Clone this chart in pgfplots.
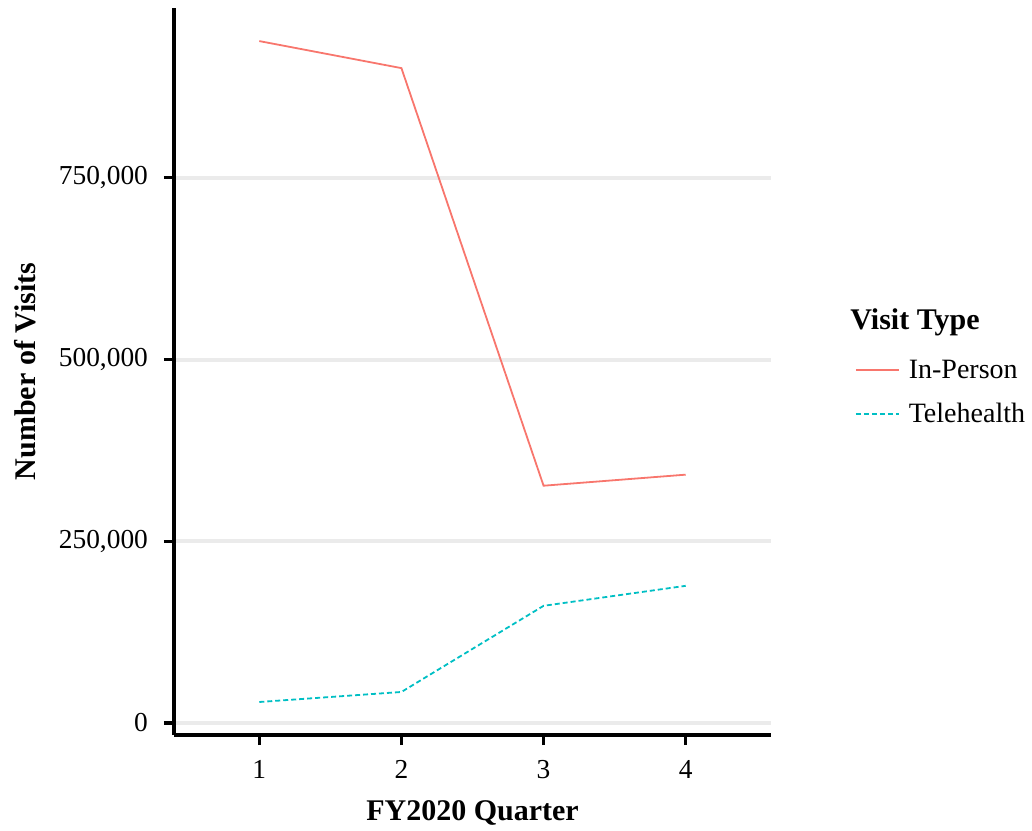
\documentclass[border=0pt]{standalone}
\usepackage{fontspec}
\setmainfont{Liberation Serif}
\usepackage{pgfplots}
\pgfplotsset{compat=1.18}
\definecolor{inp}{HTML}{F8766D}
\definecolor{tel}{HTML}{00BFC4}
\definecolor{gridc}{HTML}{EBEBEB}
\begin{document}
\begin{tikzpicture}
\begin{axis}[
  at={(0,0)}, anchor=south west,
  scale only axis, width=298.5pt, height=363.5pt,
  xmin=0.4, xmax=4.6, ymin=-16500, ymax=983500,
  xtick={1,2,3,4}, ytick={0,250000,500000,750000},
  minor tick num=0,
  axis lines*=left,
  axis line style={line width=1.7pt, black},
  every tick/.style={line width=1.6pt, black},
  tick align=outside, major tick length=5pt,
  ymajorgrids, grid style={line width=2pt, gridc},
  scaled y ticks=false,
  /pgf/number format/.cd, fixed, 1000 sep={,}, assume math mode=true,
  /pgfplots/.cd,
  tick label style={font=\fontsize{13.7}{15}\selectfont, black},
  yticklabel style={xshift=-4.5pt},
  xticklabel style={yshift=-4pt},
  xlabel={\textbf{FY2020 Quarter}}, ylabel={\textbf{Number of Visits}},
  label style={font=\fontsize{15}{17}\selectfont},
  xlabel style={at={(axis description cs:0.5,-0.1073)}, anchor=center},
  ylabel style={at={(axis description cs:-0.2496,0.5)}, anchor=center},
  legend style={at={(axis description cs:1.13,0.471)}, anchor=west, draw=none, fill=none,
    font=\fontsize{14}{16}\selectfont, row sep=7pt},
  legend cell align=left,
  legend image code/.code={\draw[#1] (0pt,0pt) -- (21.5pt,0pt); \path (24pt,0pt);},
]
\addplot[color=inp, line width=0.9pt] coordinates {(1,938000) (2,900800) (3,326400) (4,341600)};
\addlegendentry{In-Person}
\addplot[color=tel, line width=0.9pt, dash pattern=on 2.5pt off 1.5pt] coordinates {(1,28900) (2,42700) (3,161200) (4,188700)};
\addlegendentry{Telehealth}
\end{axis}
\node[anchor=west, inner sep=0pt, font=\bfseries\fontsize{15}{17}\selectfont] at (338pt,206.5pt) {Visit Type};
\pgfresetboundingbox
\path[use as bounding box] (-87pt,-47.5pt) rectangle (429pt,367.5pt);
\end{tikzpicture}
\end{document}
